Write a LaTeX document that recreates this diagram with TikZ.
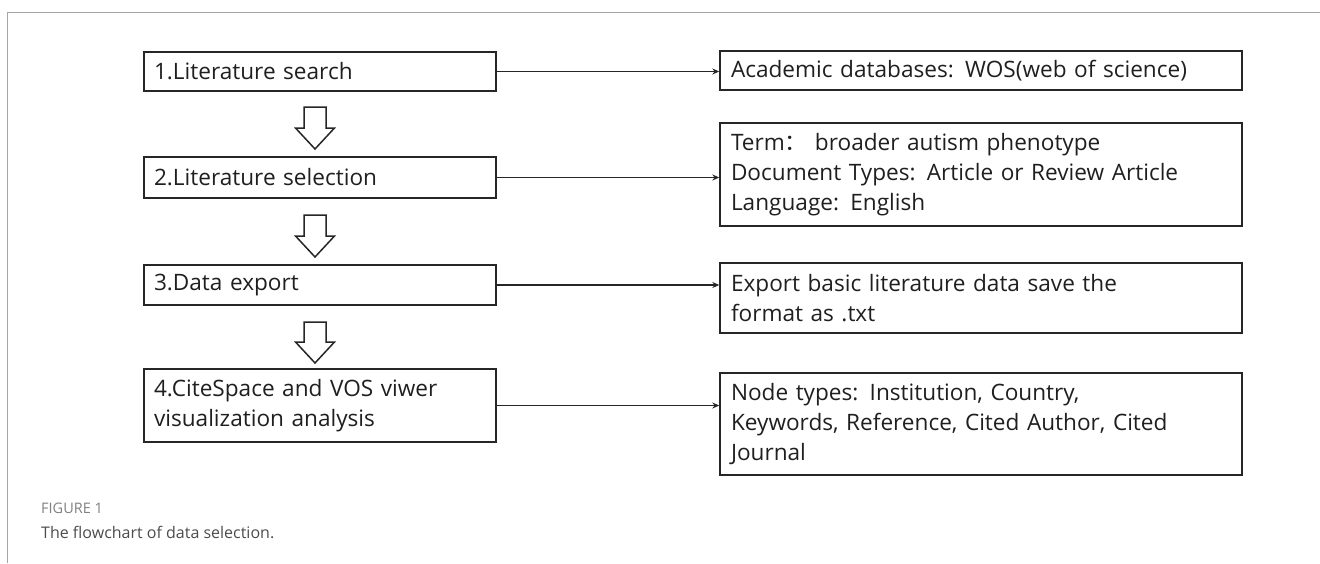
\documentclass[tikz,border=0pt]{standalone}
\usepackage{fontspec}
\setmainfont{Open Sans}
\newfontfamily\cjk{Noto Sans CJK SC}
\usetikzlibrary{arrows.meta,calc}
\begin{document}
\begin{tikzpicture}[x=1pt,y=-1pt,
 lbox/.style={draw=black!85, line width=1.8pt, minimum width=352pt, text width=332pt, inner xsep=10pt, inner ysep=0pt, align=left, font=\fontsize{22.6}{30}\selectfont, text=black!88},
 rbox/.style={lbox, minimum width=521.6pt, text width=500pt, inner xsep=10.8pt},
 conn/.style={line width=1.6pt, draw=black!85, -{Stealth[length=7pt,width=6pt]}},
 hollow/.style={draw=black!85, line width=1.5pt, fill=white, line join=miter},
 frame/.style={draw=black!35, line width=1pt}]
\useasboundingbox (0,0) rectangle (1320,563);
\draw[frame] (7.6,563) -- (7.6,12.7) -- (1320,12.7);
\node[lbox, minimum height=39pt] (l1) at (320,71.5) {1.Literature search};
\node[lbox, minimum height=41pt] (l2) at (320,177.5) {2.Literature selection};
\node[lbox, minimum height=40pt] (l3) at (320,285) {3.Data export};
\node[lbox, minimum height=73pt] (l4) at (320,405.5) {4.CiteSpace and VOS viwer\\visualization analysis};
\node[rbox, minimum height=39pt] (r1) at (981,70.5) {Academic databases: WOS(web of science)};
\node[rbox, minimum height=103pt] (r2) at (981,174.5) {Term{\cjk ：} broader autism phenotype\\Document Types: Article or Review Article\\Language: English};
\node[rbox, minimum height=70pt] (r3) at (981,298) {Export basic literature data save the\\format as .txt};
\node[rbox, minimum height=102pt] (r4) at (981,424) {Node types: Institution, Country,\\Keywords, Reference, Cited Author, Cited\\Journal};
\foreach \a/\b in {l1/r1,l2/r2,l3/r3,l4/r4}
  \draw[conn] (\a.east) -- (\a.east -| \b.west);
\foreach \t/\h/\e in {107/128/149, 215/236/257, 322/342/363}
  \draw[hollow] (304,\t) -- (326,\t) -- (326,\h) -- (334.5,\h) -- (315,\e) -- (295.5,\h) -- (304,\h) -- cycle;
\node[anchor=base west, text=black!50, font=\fontsize{14.5}{16}\selectfont, inner sep=0] (fig) at (41,513) {FIGURE 1};
\node[anchor=base west, text=black!70, font=\fontsize{16}{20}\selectfont, inner sep=0] (cap) at (41,538) {The flowchart of data selection.};
\end{tikzpicture}
\end{document}
